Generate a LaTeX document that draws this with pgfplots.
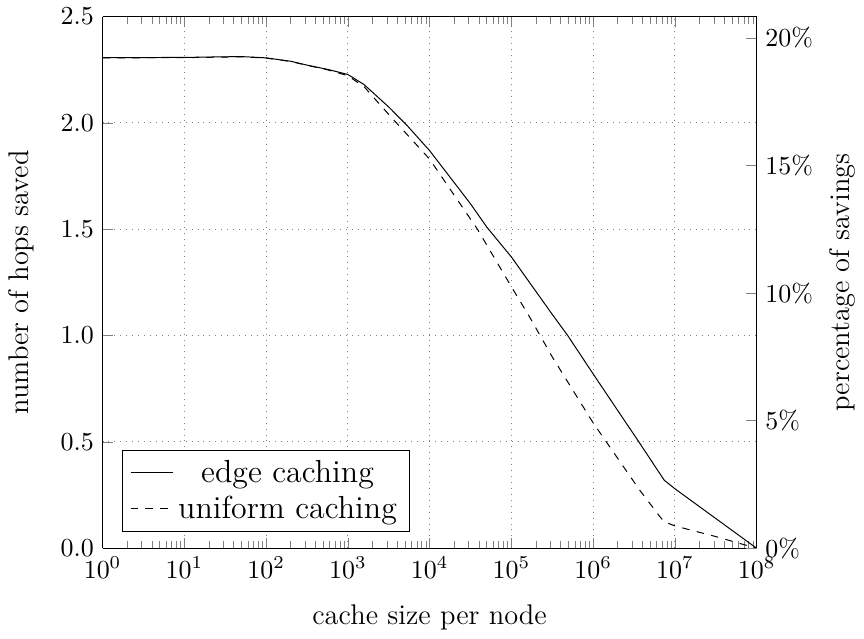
\RequirePackage{fix-cm}
\documentclass[border=0pt]{standalone}
\usepackage{fontspec}
\usepackage{pgfplots}
\pgfplotsset{compat=1.18}
\begin{document}
\begin{tikzpicture}
\begin{axis}[
  scale only axis,
  width=264.5pt, height=215pt,
  xmode=log, xmin=1, xmax=1e8,
  ymin=0, ymax=2.5,
  axis y line*=left,
  ytick={0,0.5,1,1.5,2,2.5},
  yticklabel style={/pgf/number format/.cd, fixed, fixed zerofill, precision=1},
  tick label style={font=\fontsize{10.5}{12}\selectfont},
  xmajorgrids, ymajorgrids,
  grid style={dotted, gray},
  xlabel={cache size per node},
  ylabel={number of hops saved},
  xlabel shift=4pt, ylabel shift=4pt,
  label style={font=\fontsize{11.5}{14}\selectfont},
  legend pos=south west,
  legend style={font=\fontsize{12.9}{17.5}\selectfont, legend cell align=center},
]
\addplot[black, solid] coordinates {
(1,2.307) (10,2.308) (31.6,2.311) (50,2.312) (100,2.306) (200,2.290) (316,2.272) (562,2.252) (1000,2.228) (1585,2.18) (3162,2.075) (5248,1.99) (10000,1.87) (31623,1.62) (50119,1.51) (100000,1.37) (316228,1.10) (489779,1.0) (1000000,0.82) (3630000,0.5) (7410000,0.32) (10000000,0.28) (31623000,0.14) (100000000,0.0)
};
\addlegendentry{edge caching}
\addplot[black, dashed] coordinates {
(1,2.306) (10,2.307) (50,2.311) (100,2.305) (200,2.289) (316,2.271) (562,2.250) (1000,2.222) (1585,2.17) (3162,2.04) (10000,1.83) (38548,1.5) (100000,1.23) (165959,1.09) (316228,0.90) (1000000,0.59) (3720000,0.273) (6610000,0.147) (7410000,0.125) (10000000,0.105) (31623000,0.055) (100000000,0.0)
};
\addlegendentry{uniform caching}
\end{axis}
\begin{axis}[
  scale only axis,
  width=264.5pt, height=215pt,
  xmode=log, xmin=1, xmax=1e8,
  axis x line=none,
  axis y line*=right,
  ymin=0, ymax=20.8333,
  ytick={0,5,10,15,20},
  yticklabel={\pgfmathprintnumber{\tick}\%},
  tick label style={font=\fontsize{10.5}{12}\selectfont},
  ylabel={percentage of savings},
  label style={font=\fontsize{11.5}{14}\selectfont},
]
\end{axis}
\end{tikzpicture}
\end{document}
